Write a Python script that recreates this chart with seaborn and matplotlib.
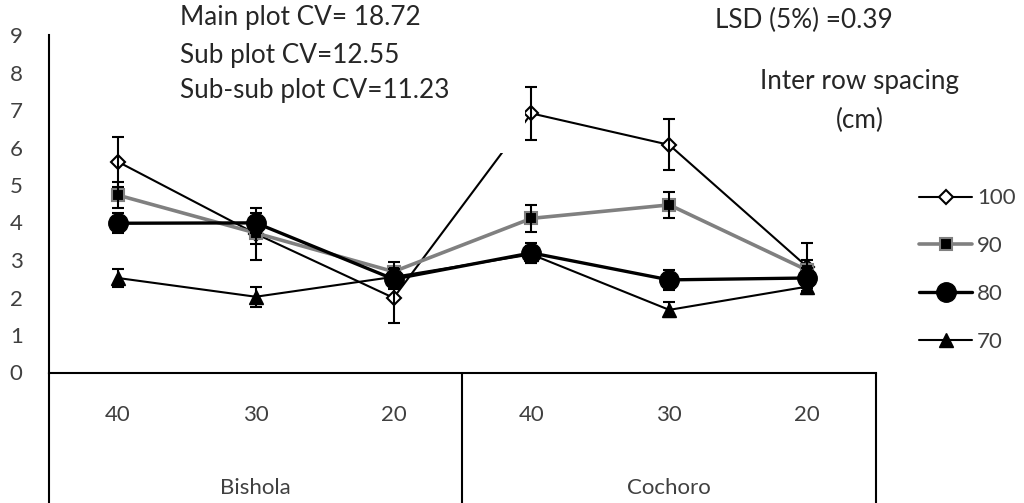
import numpy as np
import pandas as pd
import matplotlib
matplotlib.use('Agg')
import matplotlib.pyplot as plt
import matplotlib.transforms as mtransforms
from matplotlib.patches import Rectangle
import seaborn as sns

# values
locations = ['Bishola', 'Cochoro']
spacing = ['40', '30', '20']
series = ['100', '90', '80', '70']
v100 = [5.62, 3.70, 1.99, 6.91, 6.07, 2.82]
v90 = [4.73, 3.72, 2.69, 4.11, 4.47, 2.73]
v80 = [3.98, 3.99, 2.49, 3.19, 2.47, 2.52]
v70 = [2.52, 2.02, 2.55, 3.15, 1.67, 2.29]
e100 = [0.67, 0.69, 0.66, 0.70, 0.68, 0.64]
e90 = [0.34, 0.30, 0.26, 0.36, 0.35, 0.28]
e80 = [0.27, 0.27, 0.27, 0.27, 0.27, 0.27]
e70 = [0.24, 0.26, 0.22, 0.22, 0.20, 0.20]

xlabels = [s for loc in locations for s in spacing]
pos = np.arange(len(xlabels))

df = pd.concat([pd.DataFrame({'pos': pos, 'value': v, 'err': e, 'series': s})
                for s, v, e in zip(series, [v100, v90, v80, v70], [e100, e90, e80, e70])])

sns.set_style('white')
plt.rcParams['font.family'] = ['Lato', 'DejaVu Sans']

styles = {
    '100': dict(color='black', lw=1.5, marker='D', ms=7.5, mfc='white', mec='black', mew=1.5),
    '90': dict(color='#808080', lw=2.6, marker='s', ms=9, mfc='black', mec='#808080', mew=1.5),
    '80': dict(color='black', lw=2.4, marker='o', ms=14, mfc='black', mec='black', mew=1),
    '70': dict(color='black', lw=1.5, marker='^', ms=10, mfc='black', mec='black', mew=1),
}

fig = plt.figure(figsize=(10.24, 5.03), dpi=100)
ax = fig.add_axes([49 / 1024, 130.5 / 503, 827 / 1024, 337.5 / 503])

handles = []
for i, s in enumerate(series):
    d = df[df.series == s]
    sns.lineplot(data=d, x='pos', y='value', ax=ax, zorder=2 + i, **styles[s])
    handles.append(ax.lines[-1])
    ax.errorbar(d.pos, d.value, yerr=d.err, fmt='none', ecolor='black',
                elinewidth=1.5, capsize=4, capthick=1.5, zorder=2 + i)

ax.set_xlim(-0.5, len(pos) - 0.5)
ax.set_ylim(0, 9)
ax.set_yticks(range(10))
ax.tick_params(axis='y', length=0, pad=19, labelsize=16, labelcolor='#404040')
ax.set_xticks([])
ax.set_xlabel('')
ax.set_ylabel('')
for sp in ['top', 'right']:
    ax.spines[sp].set_visible(False)
ax.spines['left'].set_color('black')
ax.spines['left'].set_linewidth(1.5)
ax.spines['bottom'].set_color('black')
ax.spines['bottom'].set_linewidth(1.5)

# multi-level category axis
trans = mtransforms.blended_transform_factory(ax.transData, ax.transAxes)
n = len(spacing)
for xv in [-0.5] + [k * n - 0.5 for k in range(1, len(locations) + 1)]:
    ax.plot([xv, xv], [0, -0.39], transform=trans, color='black', lw=1.5, clip_on=False)
for p, lab in zip(pos, xlabels):
    ax.text(p, -0.126, lab, transform=trans, ha='center', va='center', fontsize=16, color='#404040')
for k, loc in enumerate(locations):
    ax.text(k * n + (n - 1) / 2, -0.342, loc, transform=trans, ha='center', va='center',
            fontsize=16, color='#404040')

ax.legend(handles, series, loc='center left', bbox_to_anchor=(908 / 1024, 1 - 270 / 503),
          bbox_transform=fig.transFigure, frameon=False, fontsize=16, handlelength=2.4,
          handletextpad=0.2, labelspacing=1.25, borderpad=0, labelcolor='#404040')

# white text box of the CV notes
fig.add_artist(Rectangle((170 / 1024, 1 - 153 / 503), 355 / 1024, 153 / 503,
                         transform=fig.transFigure, facecolor='white', edgecolor='none', zorder=1))
fs = 18.8
fig.text(180 / 1024, 1 - 18 / 503, 'Main plot CV= 18.72', fontsize=fs, va='center', ha='left')
fig.text(180 / 1024, 1 - 55 / 503, 'Sub plot CV=12.55', fontsize=fs, va='center', ha='left')
fig.text(180 / 1024, 1 - 90 / 503, 'Sub-sub plot CV=11.23', fontsize=fs, va='center', ha='left')
fig.text(715 / 1024, 1 - 20 / 503, 'LSD (5%) =0.39', fontsize=fs, va='center', ha='left')
fig.text(860 / 1024, 1 - 82 / 503, 'Inter row spacing', fontsize=fs, va='center', ha='center')
fig.text(860 / 1024, 1 - 120 / 503, '(cm)', fontsize=fs, va='center', ha='center')

fig.savefig('out.png', dpi=100, facecolor='white')
